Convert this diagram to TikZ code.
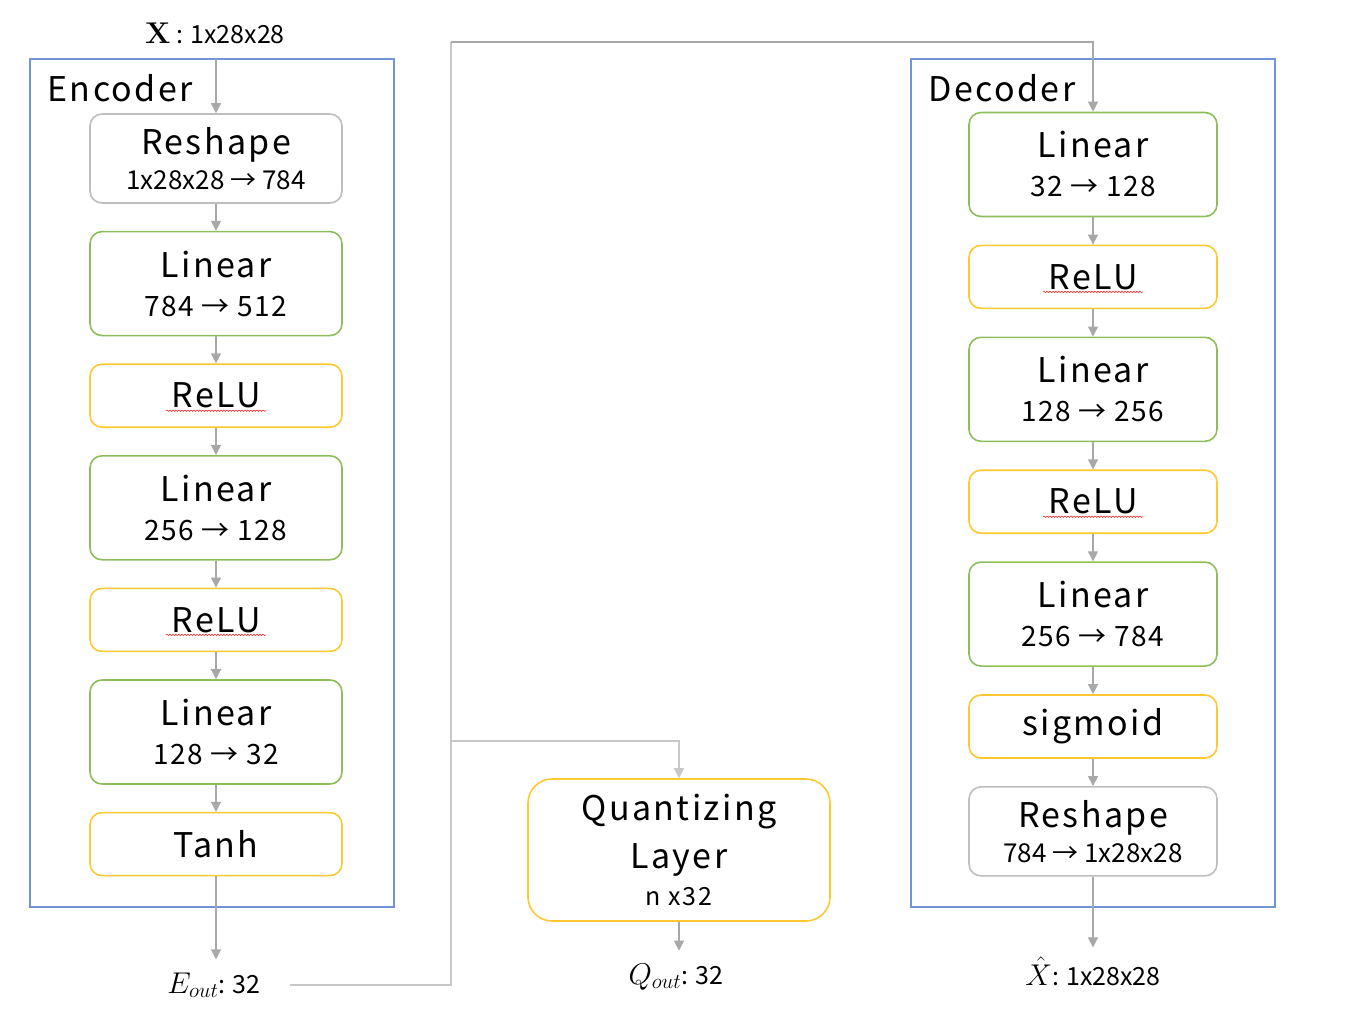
\RequirePackage{fix-cm}
\documentclass[tikz,border=0pt]{standalone}
\usepackage[no-math]{fontspec}
\setmainfont{Noto Sans CJK JP}
\newfontfamily\wideface[LetterSpace=7]{Noto Sans CJK JP}
\newfontfamily\midface[LetterSpace=5]{Noto Sans CJK JP}
\usetikzlibrary{arrows.meta,positioning,decorations.pathmorphing}

\definecolor{frameblue}{RGB}{114,147,214}
\definecolor{lingreen}{RGB}{140,190,92}
\definecolor{actyellow}{RGB}{255,200,48}
\definecolor{shapegray}{RGB}{190,190,190}
\definecolor{linegray}{RGB}{168,168,168}
\definecolor{wiregray}{RGB}{200,200,200}

\newcommand{\bigtxt}{\wideface\fontsize{34}{39}\selectfont}
\newcommand{\subtxt}{\midface\fontsize{28}{39}\selectfont}
\newcommand{\reshtxt}{\normalfont\fontsize{26}{39}\selectfont}
\newcommand{\lbltxt}{\fontsize{25}{30}\selectfont}
\newcommand{\mathtxt}{\fontsize{30}{30}\selectfont}

\tikzset{
  layer/.style={rectangle, rounded corners=12pt, line width=1.6pt, fill=white,
    align=center, inner sep=0pt, minimum width=252pt, font=\bigtxt},
  lin/.style={layer, draw=lingreen, minimum height=104pt},
  act/.style={layer, draw=actyellow, minimum height=63pt},
  resh/.style={layer, draw=shapegray, minimum height=89pt},
  frame/.style={draw=frameblue, line width=1.8pt},
  lbl/.style={inner sep=1pt, font=\lbltxt},
  flow/.style={draw=linegray, line width=1.3pt, -{Triangle[width=10pt,length=10pt]}},
  wire/.style={draw=wiregray, line width=1.3pt},
  typo/.style={draw=red!85, line width=0.6pt, decorate,
    decoration={snake, amplitude=0.7pt, segment length=3pt}}
}

\begin{document}
\begin{tikzpicture}[x=1pt,y=-1pt]
\useasboundingbox (0,0) rectangle (1346,1022);

% Rahmen
\draw[frame] (30,59) rectangle (394,907);
\draw[frame] (911,59) rectangle (1275,907);
\node[anchor=west, font=\bigtxt] (enclbl) at (44,88) {Encoder};
\node[anchor=west, font=\bigtxt] (declbl) at (925,88) {Decoder};

% Encoder
\node[resh] (e1) at (216,158.5) {Reshape\\[-4pt]{\reshtxt 1x28x28 → 784}};
\node[lin, below=27pt of e1] (e2) {Linear\\{\subtxt 784 → 512}};
\node[act, below=27pt of e2] (e3) {ReLU};
\node[lin, below=27pt of e3] (e4) {Linear\\{\subtxt 256 → 128}};
\node[act, below=27pt of e4] (e5) {ReLU};
\node[lin, below=27pt of e5] (e6) {Linear\\{\subtxt 128 → 32}};
\node[act, below=27pt of e6] (e7) {Tanh};

% Decoder
\begin{scope}[layer/.append style={minimum width=248pt}]
\node[lin] (d1) at (1093,164.5) {Linear\\{\subtxt 32 → 128}};
\node[act, below=27.3pt of d1] (d2) {ReLU};
\node[lin, below=27.3pt of d2] (d3) {Linear\\{\subtxt 128 → 256}};
\node[act, below=27.3pt of d3] (d4) {ReLU};
\node[lin, below=27.3pt of d4] (d5) {Linear\\{\subtxt 256 → 784}};
\node[act, below=27.3pt of d5] (d6) {sigmoid};
\node[resh, below=27.3pt of d6] (d7) {Reshape\\[-4pt]{\reshtxt 784 → 1x28x28}};
\end{scope}

% Quantizer
\node[layer, draw=actyellow, rounded corners=24pt, minimum width=302pt,
  minimum height=142pt] (quant) at (679,850)
  {Quantizing\\[9pt]Layer\\[-2pt]{\lbltxt n x32}};

% Labels
\node[lbl] (xin) at (215,33) {{\mathtxt$\mathbf{X}$} : 1x28x28};
\node[lbl] (eout) at (214,985) {{\mathtxt$E_{out}$}: 32};
\node[lbl] (qout) at (676,977) {{\mathtxt$Q_{out}$}: 32};
\node[lbl] (xhat) at (1093,971) {{\mathtxt$\hat{X}$}: 1x28x28};

% Pfeile
\coordinate (encin) at (216,59);
\draw[flow] (encin) -- (e1);
\foreach \a/\b in {e1/e2, e2/e3, e3/e4, e4/e5, e5/e6, e6/e7,
                   d1/d2, d2/d3, d3/d4, d4/d5, d5/d6, d6/d7}
  \draw[flow] (\a) -- (\b);
\draw[flow] (e7) -- ([yshift=12pt]e7 |- eout.north);
\draw[flow] (quant) -- ([yshift=12pt]quant |- qout.north);
\draw[flow] (d7) -- ([yshift=8pt]d7 |- xhat.north);

\coordinate (topbend) at (451,42);
\coordinate (split) at (451,741);
\draw[wire, shorten <=28pt] (eout.east) -| (topbend);
\draw[flow] (topbend) -| (d1.north);
\draw[flow, draw=wiregray] (split) -| (quant.north);

% Rechtschreibung
\foreach \n in {e3, e5, d2, d4}
  \draw[typo] ([xshift=-50pt,yshift=-15pt]\n.center) -- ([xshift=50pt,yshift=-15pt]\n.center);

\end{tikzpicture}
\end{document}
